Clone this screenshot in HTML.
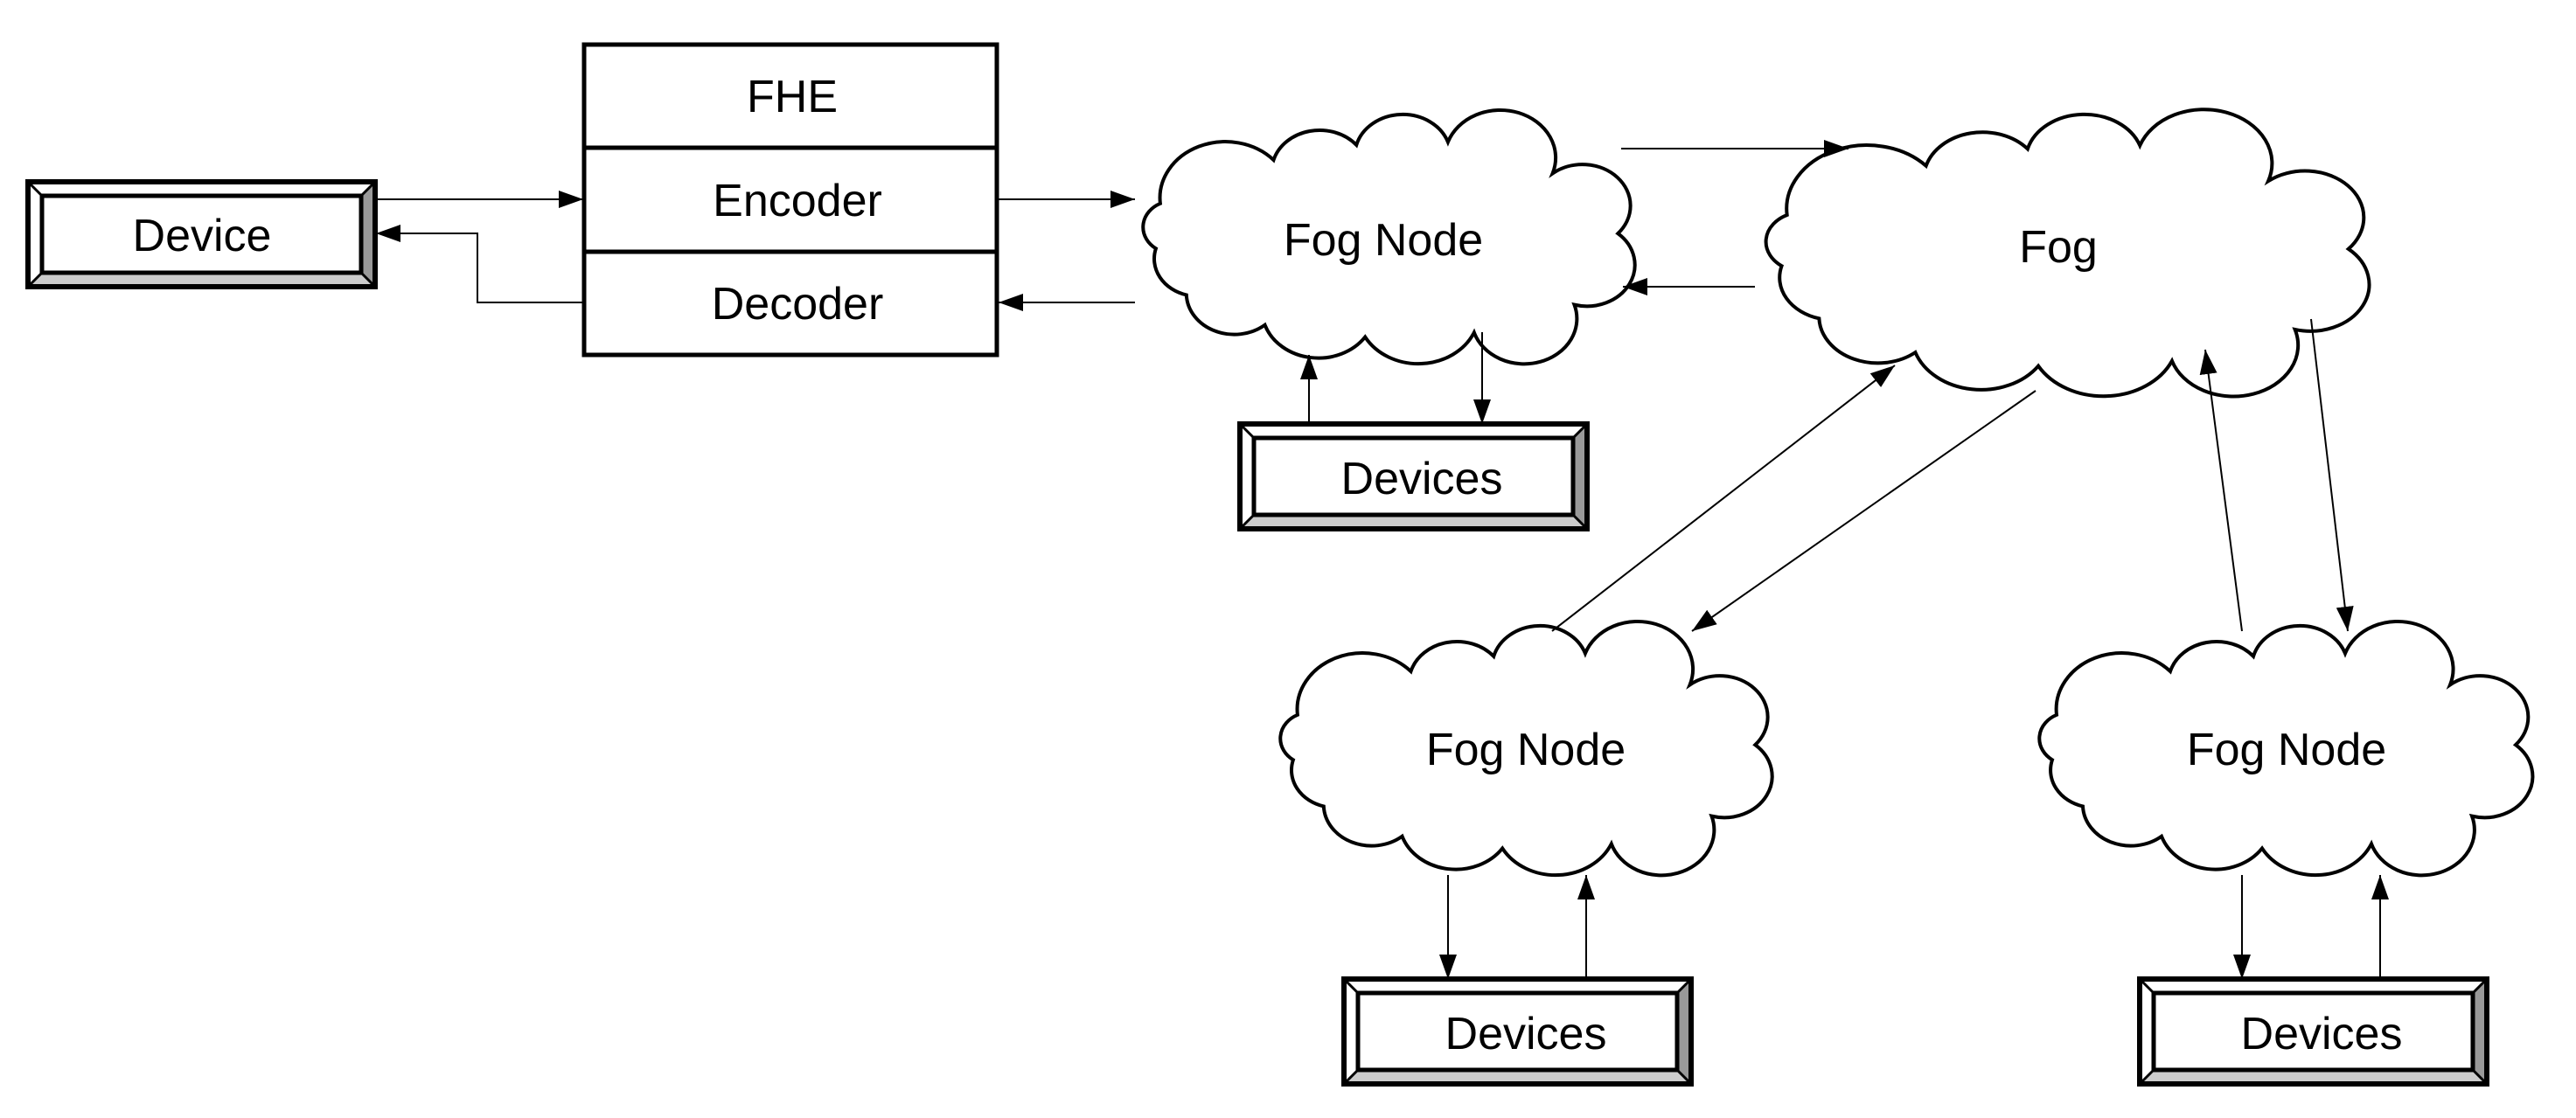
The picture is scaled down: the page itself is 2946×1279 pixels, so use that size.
<!DOCTYPE html>
<html><head><meta charset="utf-8"><style>
html,body{margin:0;padding:0;background:#fff;}
svg{display:block;}
text{font-family:"Liberation Sans",Arial,sans-serif;font-size:52px;fill:#000;}
</style></head><body>
<svg width="2946" height="1279" viewBox="0 0 2946 1279" xmlns="http://www.w3.org/2000/svg">
<defs>
<marker id="ah" markerUnits="userSpaceOnUse" markerWidth="30" markerHeight="20" refX="28" refY="10" orient="auto">
<path d="M0,0 L28,10 L0,20 z" fill="#000"/>
</marker>
<g id="box">
<polygon points="0,120 16,104 381,104 397,120" fill="#ccc"/>
<polygon points="381,16 397,0 397,120 381,104" fill="#999"/>
<line x1="0" y1="0" x2="16" y2="16" stroke="#000" stroke-width="3"/>
<line x1="397" y1="0" x2="381" y2="16" stroke="#000" stroke-width="3"/>
<line x1="0" y1="120" x2="16" y2="104" stroke="#000" stroke-width="3"/>
<line x1="397" y1="120" x2="381" y2="104" stroke="#000" stroke-width="3"/>
<rect x="16" y="16" width="365" height="88" fill="none" stroke="#000" stroke-width="5"/>
<rect x="0" y="0" width="397" height="120" fill="none" stroke="#000" stroke-width="6"/>
</g>
<path id="cloud" d="M30,100 A75,75 0 0 1 160,42 A55,55 0 0 1 255,22 A55,55 0 0 1 360,18 A60,60 0 0 1 480,60 A55,55 0 0 1 555,140 A55,55 0 0 1 505,235 A60,60 0 0 1 390,272 A70,70 0 0 1 265,278 A65,65 0 0 1 150,262 A55,55 0 0 1 60,222 A50,50 0 0 1 25,160 A35,35 0 0 1 30,100 Z" fill="#fff" stroke="#000" stroke-width="4" vector-effect="non-scaling-stroke"/>
</defs>

<!-- clouds -->
<use href="#cloud" transform="translate(1297,147) scale(0.997,0.858)"/>
<use href="#cloud" transform="translate(2007,149) scale(1.223,0.97)"/>
<use href="#cloud" transform="translate(1454,732) scale(0.997,0.858)"/>
<use href="#cloud" transform="translate(2322,732) scale(1.0,0.858)"/>

<text x="1582" y="292" text-anchor="middle">Fog Node</text>
<text x="2354" y="300" text-anchor="middle">Fog</text>
<text x="1745" y="875" text-anchor="middle">Fog Node</text>
<text x="2615" y="875" text-anchor="middle">Fog Node</text>

<!-- Device -->
<use href="#box" x="32" y="208"/>
<text x="231" y="287" text-anchor="middle">Device</text>

<!-- FHE box -->
<rect x="668" y="51" width="472" height="355" fill="#fff" stroke="#000" stroke-width="5"/>
<line x1="668" y1="169" x2="1140" y2="169" stroke="#000" stroke-width="5"/>
<line x1="668" y1="288" x2="1140" y2="288" stroke="#000" stroke-width="5"/>
<text x="906" y="128" text-anchor="middle">FHE</text>
<text x="912" y="247" text-anchor="middle">Encoder</text>
<text x="912" y="365" text-anchor="middle">Decoder</text>

<g stroke="#000" stroke-width="2" fill="none">
<line x1="429" y1="228" x2="667" y2="228" marker-end="url(#ah)"/>
<polyline points="668,346 546,346 546,267 430,267" marker-end="url(#ah)"/>
<line x1="1140" y1="228" x2="1298" y2="228" marker-end="url(#ah)"/>
<line x1="1298" y1="346" x2="1142" y2="346" marker-end="url(#ah)"/>
<line x1="1854" y1="170" x2="2114" y2="170" marker-end="url(#ah)"/>
<line x1="2007" y1="328" x2="1856" y2="328" marker-end="url(#ah)"/>
<line x1="1497" y1="485" x2="1497" y2="406" marker-end="url(#ah)"/>
<line x1="1695" y1="380" x2="1695" y2="485" marker-end="url(#ah)"/>
<line x1="1775" y1="722" x2="2167" y2="418" marker-end="url(#ah)"/>
<line x1="2328" y1="447" x2="1935" y2="722" marker-end="url(#ah)"/>
<line x1="2564" y1="722" x2="2522" y2="400" marker-end="url(#ah)"/>
<line x1="2643" y1="365" x2="2685" y2="722" marker-end="url(#ah)"/>
<line x1="1656" y1="1001" x2="1656" y2="1120" marker-end="url(#ah)"/>
<line x1="1814" y1="1120" x2="1814" y2="1001" marker-end="url(#ah)"/>
<line x1="2564" y1="1001" x2="2564" y2="1120" marker-end="url(#ah)"/>
<line x1="2722" y1="1120" x2="2722" y2="1001" marker-end="url(#ah)"/>
</g>

<!-- Devices -->
<use href="#box" x="1418" y="485"/>
<text x="1626" y="565" text-anchor="middle">Devices</text>
<use href="#box" x="1537" y="1120"/>
<text x="1745" y="1200" text-anchor="middle">Devices</text>
<use href="#box" x="2447" y="1120"/>
<text x="2655" y="1200" text-anchor="middle">Devices</text>
</svg>
</body></html>
